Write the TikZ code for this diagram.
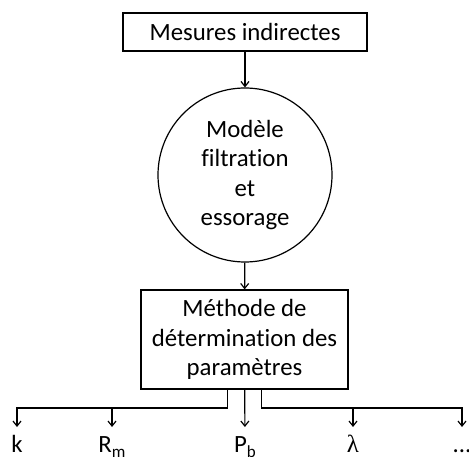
\documentclass[tikz,border=0pt]{standalone}
\usepackage{fontspec}
\setmainfont{Carlito}[Ligatures=NoCommon]
\newfontfamily\grk{Liberation Serif}
\usetikzlibrary{arrows.meta}

\tikzset{
  boite/.style={draw, line width=1.2pt, align=center, inner sep=0pt},
  lbl/.style={anchor=base, inner sep=0pt, text height=17pt, outer ysep=8pt},
  fl/.style={line width=1.2pt, -{Straight Barb[length=5pt,width=8pt]}}
}

\begin{document}
\begin{tikzpicture}[x=1pt, y=-1pt, font=\fontsize{24.8}{29.5}\selectfont]
\useasboundingbox (0,0) rectangle (469,457);

\draw (245,32)    node (mes)  [boite, minimum width=244pt, minimum height=38pt] {Mesures indirectes};
\draw (245,175)   node (mod)  [boite, circle, minimum size=174pt] {Modèle\\filtration\\et\\essorage};
\draw (244.5,339.5) node (meth) [boite, minimum width=207pt, minimum height=99pt] {Méthode de\\détermination des\\paramètres};
\draw[fl] (mes) -- (mod);
\draw[fl] (mod) -- (meth);

% bus des parametres
\coordinate (bk) at (17,408);
\coordinate (br) at (112,408);
\coordinate (bl) at (353,408);
\coordinate (bd) at (462,408);

\draw (17,452)  node (k)    [lbl] {k};
\draw (112,452) node (rm)   [lbl] {R\raisebox{-5pt}{\fontsize{17}{17}\selectfont m}};
\draw (245,452) node (pb)   [lbl] {P\raisebox{-5pt}{\fontsize{17}{17}\selectfont b}};
\draw (353,452) node (lam)  [lbl] {\grk λ};
\draw (462,452) node (etc)  [lbl] {...};

\draw[fl] ([xshift=-17pt]meth.south) |- (bk) -- (k);
\draw[fl] (br) -- (rm);
\draw[fl] (meth) -- (pb);
\draw[fl] ([xshift=17pt]meth.south) |- (bd) -- (etc);
\draw[fl] (bl) -- (lam);
\end{tikzpicture}
\end{document}
